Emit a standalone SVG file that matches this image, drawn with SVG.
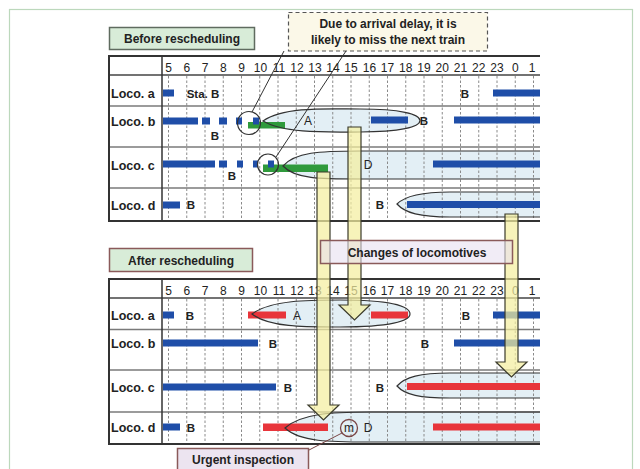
<svg xmlns="http://www.w3.org/2000/svg" xmlns:xlink="http://www.w3.org/1999/xlink" width="640" height="469" viewBox="0 0 640 469">
<style>
text{font-family:"Liberation Sans",Arial,sans-serif;fill:#222}
.hr{font-size:12px;text-anchor:middle}
.lb{font-size:12.5px;font-weight:bold}
.b{font-size:11.5px;font-weight:bold;text-anchor:middle}
.t{font-size:12px;font-weight:bold;text-anchor:middle}
.grid{stroke:#8a8a8a;stroke-width:1;stroke-dasharray:2.5,2}
.thick{stroke:#333;stroke-width:2}
.sep{stroke:#7a7a7a;stroke-width:1.6}
.blue{fill:#1f4ea8}
.red{fill:#e8353b}
.green{fill:#2f9a3c}
.ellf{fill:#e3eff5;stroke:none}
.ells{fill:none;stroke:#333;stroke-width:1.2}
.arrow{fill:#f4eea0;fill-opacity:0.72;stroke:#3b3b2b;stroke-width:1.2}
.cl{stroke:#333;stroke-width:1;fill:none}
</style>
<defs>
<clipPath id="clip"><rect x="0" y="0" width="540" height="469"/></clipPath>
<path id="eA1" d="M263,121 C285,106 330,109 360,109 C400,109 420,114 420,120.5 C420,127 400,132 360,132 C330,132 285,134 263,121 Z"/>
<path id="eD1" d="M283,166 C295,152 320,151 360,151 L560,151 L560,179 L360,179 C320,179 295,179 283,166 Z"/>
<path id="eB1" d="M397,204 C405,196 420,192 450,192 L560,192 L560,217 L450,217 C420,217 405,213 397,204 Z"/>
<path id="eA2" d="M252,314 C270,300 310,300 340,300 C390,300 410,306 410,314 C410,321 390,327 340,327 C310,327 270,328 252,314 Z"/>
<path id="eC2" d="M397,386 C405,377 420,373 450,373 L560,373 L560,398 L450,398 C420,398 405,395 397,386 Z"/>
<path id="eD2" d="M285,428 C300,414 330,412 370,412 L560,412 L560,442 L370,442 C330,442 300,442 285,428 Z"/>
</defs>
<rect x="0" y="0" width="640" height="469" fill="#ffffff"/>
<rect x="9.5" y="9.5" width="623" height="470" fill="none" stroke="#bcd8bc" stroke-width="1.2"/>

<g id="before-label">
<rect x="109.5" y="27.5" width="145" height="22" fill="#d8ecd8" stroke="#5f6b5f" stroke-width="1.5"/>
<text class="t" x="182" y="42.5">Before rescheduling</text>
</g>

<g id="callout">
<rect x="288.5" y="12.5" width="199" height="38.5" fill="#fbf8e8" stroke="#555" stroke-width="1.2" stroke-dasharray="4,3"/>
<text class="t" x="388" y="28">Due to arrival delay, it is</text>
<text class="t" x="388" y="44">likely to miss the next train</text>
</g>

<g id="before-table" clip-path="url(#clip)">
<use xlink:href="#eA1" class="ellf"/>
<use xlink:href="#eD1" class="ellf"/>
<use xlink:href="#eB1" class="ellf"/>
<g>
<line class="grid" x1="168.5" y1="76" x2="168.5" y2="221"/>
<line class="grid" x1="186.75" y1="76" x2="186.75" y2="221"/>
<line class="grid" x1="205" y1="76" x2="205" y2="221"/>
<line class="grid" x1="223.25" y1="76" x2="223.25" y2="221"/>
<line class="grid" x1="241.5" y1="76" x2="241.5" y2="221"/>
<line class="grid" x1="259.75" y1="76" x2="259.75" y2="221"/>
<line class="grid" x1="278" y1="76" x2="278" y2="221"/>
<line class="grid" x1="296.25" y1="76" x2="296.25" y2="221"/>
<line class="grid" x1="314.5" y1="76" x2="314.5" y2="221"/>
<line class="grid" x1="332.75" y1="76" x2="332.75" y2="221"/>
<line class="grid" x1="351" y1="76" x2="351" y2="221"/>
<line class="grid" x1="369.25" y1="76" x2="369.25" y2="221"/>
<line class="grid" x1="387.5" y1="76" x2="387.5" y2="221"/>
<line class="grid" x1="405.75" y1="76" x2="405.75" y2="221"/>
<line class="grid" x1="424" y1="76" x2="424" y2="221"/>
<line class="grid" x1="442.25" y1="76" x2="442.25" y2="221"/>
<line class="grid" x1="460.5" y1="76" x2="460.5" y2="221"/>
<line class="grid" x1="478.75" y1="76" x2="478.75" y2="221"/>
<line class="grid" x1="497" y1="76" x2="497" y2="221"/>
<line class="grid" x1="515.25" y1="76" x2="515.25" y2="221"/>
<line class="grid" x1="533.5" y1="76" x2="533.5" y2="221"/>
</g>
<line class="thick" x1="108" y1="56" x2="540" y2="56"/>
<line x1="109" y1="75" x2="540" y2="75" stroke="#444" stroke-width="1.6"/>
<line class="sep" x1="109" y1="106" x2="540" y2="106"/>
<line class="sep" x1="109" y1="147" x2="540" y2="147"/>
<line class="sep" x1="109" y1="188" x2="540" y2="188"/>
<line class="thick" x1="108" y1="221" x2="540" y2="221"/>
<line class="thick" x1="109" y1="55" x2="109" y2="222"/>
<line x1="162" y1="56" x2="162" y2="221" stroke="#333" stroke-width="1.5"/>
<g>
<text class="hr" x="168.5" y="72">5</text><text class="hr" x="186.75" y="72">6</text><text class="hr" x="205" y="72">7</text><text class="hr" x="223.25" y="72">8</text><text class="hr" x="241.5" y="72">9</text><text class="hr" x="260.5" y="72">10</text><text class="hr" x="279" y="72">11</text><text class="hr" x="297" y="72">12</text><text class="hr" x="315" y="72">13</text><text class="hr" x="333" y="72">14</text><text class="hr" x="351" y="72">15</text><text class="hr" x="369.5" y="72">16</text><text class="hr" x="387.5" y="72">17</text><text class="hr" x="405.75" y="72">18</text><text class="hr" x="424" y="72">19</text><text class="hr" x="442.25" y="72">20</text><text class="hr" x="460.5" y="72">21</text><text class="hr" x="478.75" y="72">22</text><text class="hr" x="497" y="72">23</text><text class="hr" x="515.25" y="72">0</text><text class="hr" x="532" y="72">1</text>
</g>
<text class="lb" x="111" y="97.5">Loco. a</text>
<text class="lb" x="111" y="125.5">Loco. b</text>
<text class="lb" x="111" y="169.5">Loco. c</text>
<text class="lb" x="111" y="209.5">Loco. d</text>
<!-- row a -->
<rect class="blue" x="163" y="89.5" width="11" height="7"/>
<text class="b" x="203" y="97.5">Sta. B</text>
<text class="b" x="465" y="97.5">B</text>
<rect class="blue" x="493" y="89.5" width="52" height="7"/>
<!-- row b -->
<rect class="green" x="248" y="122" width="37" height="6.5"/>
<rect class="blue" x="163" y="117.5" width="35" height="7"/>
<rect class="blue" x="202" y="117.5" width="8" height="7"/>
<rect class="blue" x="219" y="117.5" width="8" height="7"/>
<rect class="blue" x="236" y="117.5" width="6" height="7"/>
<rect class="blue" x="253" y="117.5" width="6" height="7"/>
<text class="b" x="215" y="140">B</text>
<text x="308" y="125" style="font-size:12px;text-anchor:middle">A</text>
<rect class="blue" x="371" y="116.5" width="37" height="7"/>
<text class="b" x="424" y="124.5">B</text>
<rect class="blue" x="454" y="116.5" width="91" height="7"/>
<!-- row c -->
<rect class="green" x="263" y="164.5" width="65" height="7.5"/>
<rect class="blue" x="163" y="160.5" width="52" height="7"/>
<rect class="blue" x="219" y="160.5" width="8" height="7"/>
<rect class="blue" x="237" y="160.5" width="6" height="7"/>
<rect class="blue" x="253" y="160.5" width="5" height="7"/>
<rect class="blue" x="268" y="160.5" width="6" height="7"/>
<text class="b" x="232" y="180">B</text>
<text x="368" y="168.5" style="font-size:12px;text-anchor:middle">D</text>
<rect class="blue" x="433" y="160.5" width="112" height="7"/>
<!-- row d -->
<rect class="blue" x="163" y="201.5" width="17" height="7"/>
<text class="b" x="191" y="209">B</text>
<text class="b" x="380" y="209">B</text>
<rect class="blue" x="407" y="201" width="138" height="7"/>
<use xlink:href="#eA1" class="ells"/>
<use xlink:href="#eD1" class="ells"/>
<use xlink:href="#eB1" class="ells"/>
<circle cx="249" cy="123" r="11.5" fill="none" stroke="#333" stroke-width="1.2"/>
<circle cx="268" cy="164.5" r="10.5" fill="none" stroke="#333" stroke-width="1.2"/>
</g>

<g id="after-label">
<rect x="109.5" y="248.5" width="143" height="23" fill="#d8ecd8" stroke="#8a5a5a" stroke-width="1.5"/>
<text class="t" x="181" y="264.5">After rescheduling</text>
</g>

<g id="after-table" clip-path="url(#clip)">
<use xlink:href="#eA2" class="ellf"/>
<use xlink:href="#eC2" class="ellf"/>
<use xlink:href="#eD2" class="ellf"/>
<g>
<line class="grid" x1="168.5" y1="299" x2="168.5" y2="444"/>
<line class="grid" x1="186.75" y1="299" x2="186.75" y2="444"/>
<line class="grid" x1="205" y1="299" x2="205" y2="444"/>
<line class="grid" x1="223.25" y1="299" x2="223.25" y2="444"/>
<line class="grid" x1="241.5" y1="299" x2="241.5" y2="444"/>
<line class="grid" x1="259.75" y1="299" x2="259.75" y2="444"/>
<line class="grid" x1="278" y1="299" x2="278" y2="444"/>
<line class="grid" x1="296.25" y1="299" x2="296.25" y2="444"/>
<line class="grid" x1="314.5" y1="299" x2="314.5" y2="444"/>
<line class="grid" x1="332.75" y1="299" x2="332.75" y2="444"/>
<line class="grid" x1="351" y1="299" x2="351" y2="444"/>
<line class="grid" x1="369.25" y1="299" x2="369.25" y2="444"/>
<line class="grid" x1="387.5" y1="299" x2="387.5" y2="444"/>
<line class="grid" x1="405.75" y1="299" x2="405.75" y2="444"/>
<line class="grid" x1="424" y1="299" x2="424" y2="444"/>
<line class="grid" x1="442.25" y1="299" x2="442.25" y2="444"/>
<line class="grid" x1="460.5" y1="299" x2="460.5" y2="444"/>
<line class="grid" x1="478.75" y1="299" x2="478.75" y2="444"/>
<line class="grid" x1="497" y1="299" x2="497" y2="444"/>
<line class="grid" x1="515.25" y1="299" x2="515.25" y2="444"/>
<line class="grid" x1="533.5" y1="299" x2="533.5" y2="444"/>
</g>
<line class="thick" x1="108" y1="279" x2="540" y2="279"/>
<line x1="109" y1="298" x2="540" y2="298" stroke="#444" stroke-width="1.6"/>
<line class="sep" x1="109" y1="329.5" x2="540" y2="329.5"/>
<line class="sep" x1="109" y1="370" x2="540" y2="370"/>
<line class="sep" x1="109" y1="412" x2="540" y2="412"/>
<line class="thick" x1="108" y1="444" x2="540" y2="444"/>
<line class="thick" x1="109" y1="278" x2="109" y2="445"/>
<line x1="162" y1="279" x2="162" y2="444" stroke="#333" stroke-width="1.5"/>
<g>
<text class="hr" x="168.5" y="294.5">5</text><text class="hr" x="186.75" y="294.5">6</text><text class="hr" x="205" y="294.5">7</text><text class="hr" x="223.25" y="294.5">8</text><text class="hr" x="241.5" y="294.5">9</text><text class="hr" x="260.5" y="294.5">10</text><text class="hr" x="279" y="294.5">11</text><text class="hr" x="297" y="294.5">12</text><text class="hr" x="315" y="294.5">13</text><text class="hr" x="333" y="294.5">14</text><text class="hr" x="351" y="294.5">15</text><text class="hr" x="369.5" y="294.5">16</text><text class="hr" x="387.5" y="294.5">17</text><text class="hr" x="405.75" y="294.5">18</text><text class="hr" x="424" y="294.5">19</text><text class="hr" x="442.25" y="294.5">20</text><text class="hr" x="460.5" y="294.5">21</text><text class="hr" x="478.75" y="294.5">22</text><text class="hr" x="497" y="294.5">23</text><text class="hr" x="515.25" y="294.5">0</text><text class="hr" x="532" y="294.5">1</text>
</g>
<text class="lb" x="111" y="319.5">Loco. a</text>
<text class="lb" x="111" y="347.5">Loco. b</text>
<text class="lb" x="111" y="391.5">Loco. c</text>
<text class="lb" x="111" y="431.5">Loco. d</text>
<!-- row a -->
<rect class="blue" x="163" y="311.5" width="11" height="7"/>
<text class="b" x="190" y="319.5">B</text>
<rect class="red" x="248" y="311.5" width="38" height="7"/>
<text x="297" y="319.5" style="font-size:12px;text-anchor:middle">A</text>
<rect class="red" x="371" y="311.5" width="37" height="7"/>
<text class="b" x="466" y="319.5">B</text>
<rect class="blue" x="493" y="311.5" width="52" height="7"/>
<!-- row b -->
<rect class="blue" x="163" y="339.5" width="95" height="7"/>
<text class="b" x="273" y="347.5">B</text>
<text class="b" x="425" y="347.5">B</text>
<rect class="blue" x="454" y="339.5" width="91" height="7"/>
<!-- row c -->
<rect class="blue" x="163" y="383.5" width="113" height="7"/>
<text class="b" x="288" y="391.5">B</text>
<text class="b" x="380" y="391.5">B</text>
<rect class="red" x="407" y="383" width="138" height="7"/>
<!-- row d -->
<rect class="blue" x="163" y="423.5" width="17" height="7"/>
<text class="b" x="191" y="431.5">B</text>
<rect class="red" x="263" y="423.5" width="65" height="7.5"/>
<text x="368" y="431.5" style="font-size:12px;text-anchor:middle">D</text>
<rect class="red" x="433" y="423.5" width="112" height="7"/>
<use xlink:href="#eA2" class="ells"/>
<use xlink:href="#eC2" class="ells"/>
<use xlink:href="#eD2" class="ells"/>
</g>

<g id="m-mark">
<circle cx="349" cy="428" r="8.5" fill="none" stroke="#7a4646" stroke-width="1.3"/>
<text x="349" y="432" style="font-size:12px;text-anchor:middle">m</text>
</g>

<g id="connectors">
<line class="cl" x1="284" y1="51" x2="252" y2="112"/>
<line class="cl" x1="346" y1="51" x2="276" y2="157"/>
<line x1="309" y1="450" x2="342" y2="433" stroke="#7a4646" stroke-width="1"/>
<polygon class="arrow" points="317,172 330,172 330,405 339,405 323.5,420 308,405 317,405"/>
<polygon class="arrow" points="348,127 361,127 361,305 370,305 354.5,320 339,305 348,305"/>
<polygon class="arrow" points="505,214 518,214 518,362 527,362 511.5,377 496,362 505,362"/>
</g>

<g id="changes-label">
<rect x="320.5" y="240.5" width="192" height="23" fill="#e8e0f0" fill-opacity="0.6" stroke="#8a5a5a" stroke-width="1.5"/>
<text class="t" x="417" y="256.5">Changes of locomotives</text>
</g>

<g id="urgent-label">
<rect x="177.5" y="448.5" width="131" height="26" fill="#ece4f0" stroke="#8a5a5a" stroke-width="1.5"/>
<text class="t" x="243" y="464">Urgent inspection</text>
</g>
</svg>
